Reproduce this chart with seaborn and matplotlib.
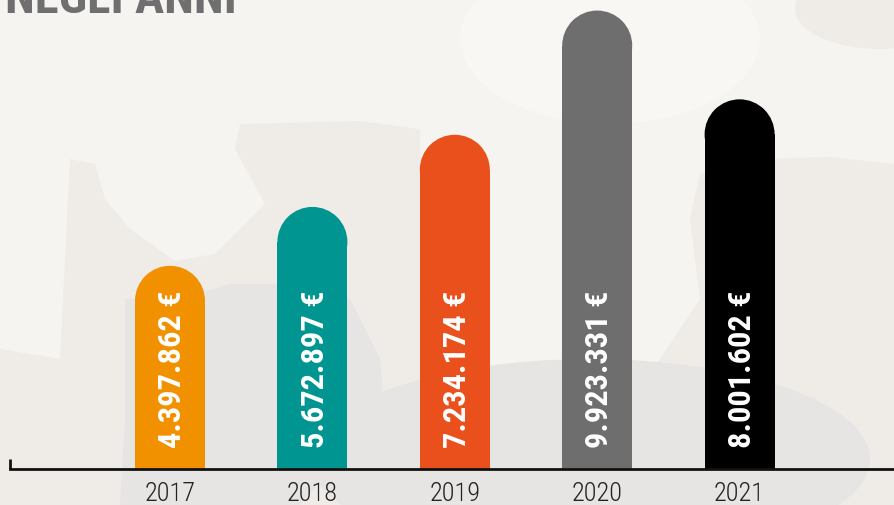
import matplotlib
matplotlib.use("Agg")
import matplotlib.pyplot as plt
import seaborn as sns
import pandas as pd
from matplotlib.patches import Ellipse, Polygon
from matplotlib import font_manager

# data
years = ["2017", "2018", "2019", "2020", "2021"]
values = [4397862, 5672897, 7234174, 9923331, 8001602]
labels = ["4.397.862 €", "5.672.897 €", "7.234.174 €", "9.923.331 €", "8.001.602 €"]
colors = ["#f29100", "#009590", "#e9501c", "#6e6e6e", "#000000"]

df = pd.DataFrame({"anno": years, "valore": values})

sns.set_style("white")
installed = set(f.name for f in font_manager.fontManager.ttflist)
cond = [f for f in ["Roboto Condensed", "Liberation Sans Narrow", "Roboto"] if f in installed]
cond = cond + ["DejaVu Sans"]

W, H = 895, 506
fig = plt.figure(figsize=(W / 100, H / 100), dpi=100)
fig.patch.set_facecolor("#f5f4f0")

# background blobs (decoration, pixel coords)
bg = fig.add_axes([0, 0, 1, 1])
bg.set_xlim(0, W)
bg.set_ylim(H, 0)
bg.axis("off")
bg.add_patch(Ellipse((610, 40), 300, 170, fc="#f8f7f3", ec="none"))
blob1 = [(0, 350), (60, 360), (70, 160), (95, 165), (105, 200), (130, 230), (175, 262), (215, 255),
         (245, 225), (265, 205), (235, 150), (240, 125), (360, 122), (420, 130), (420, 506), (0, 506)]
bg.add_patch(Polygon(blob1, closed=True, fc="#efece8", ec="none"))
blob3 = [(700, 175), (760, 160), (830, 158), (895, 165), (895, 506), (580, 506), (580, 450), (620, 420),
         (700, 300), (690, 220)]
bg.add_patch(Polygon(blob3, closed=True, fc="#efece8", ec="none"))
blob2 = [(125, 300), (180, 300), (230, 285), (300, 285), (350, 300), (380, 360), (385, 420), (330, 470),
         (300, 506), (120, 506), (125, 420)]
bg.add_patch(Polygon(blob2, closed=True, fc="#e6e5e3", ec="none"))
bg.add_patch(Ellipse((590, 460), 560, 200, fc="#e6e5e3", ec="none"))
bg.add_patch(Ellipse((880, 10), 170, 80, fc="#efece8", ec="none"))

# title, cut off at the top as in the original
title = fig.text(5 / W, 1 - 13 / H, "NEGLI ANNI", fontsize=36, fontweight="bold", color="#6f6f6f",
                 family=cond, ha="left", va="baseline")

# main axes: baseline at y=470px, left tick at x=10px
px_per_m = 46.2
step = 142.4
ax = fig.add_axes([10 / W, 36 / H, 885 / W, 470 / H])
ax.patch.set_alpha(0)

sns.barplot(data=df, x="anno", y="valore", hue="anno", palette=colors, width=70 / step,
            legend=False, ax=ax, saturation=1)
ax.set_xlim(-160 / step, (885 - 160) / step)
ax.set_ylim(0, 470 / px_per_m * 1e6)

# rounded caps
ry = 35 / px_per_m * 1e6
for p, c in zip(ax.patches[:len(values)], colors):
    x, w, h = p.get_x(), p.get_width(), p.get_height()
    p.set_height(h - ry)
    p.set_edgecolor("none")
    ax.add_patch(Ellipse((x + w / 2, h - ry), w, 2 * ry, fc=c, ec="none"))

# value labels, all starting at the same height
texts = []
for i, lab in enumerate(labels):
    t = ax.text(i + 0.015, (470 - 448) / px_per_m * 1e6, lab, rotation=90, ha="center", va="bottom",
                color="white", fontsize=24, fontweight="bold", family=cond)
    texts.append(t)

# fit label length and title width to the original
fig.canvas.draw()
r = fig.canvas.get_renderer()
ext = texts[0].get_window_extent(r)
fs = min(30, 24 * 158 / ext.height)
for t in texts:
    t.set_fontsize(fs)
tw = title.get_window_extent(r).width
title.set_fontsize(36 * 232 / tw)

for s in ["top", "right", "left"]:
    ax.spines[s].set_visible(False)
ax.spines["bottom"].set_linewidth(2)
ax.spines["bottom"].set_color("#111111")
ax.set_yticks([])
ax.set_xlabel("")
ax.set_ylabel("")
ax.tick_params(axis="x", length=0, pad=8.5, labelsize=19, labelcolor="#222222")
for t in ax.get_xticklabels():
    t.set_family(["Roboto Condensed", "Roboto"] if "Roboto Condensed" in installed else "Roboto")
    t.set_fontweight("light")

# small tick at left end of the axis line
ax.plot([0, 0], [0, 10 / 470], transform=ax.transAxes, color="#111111", lw=2, clip_on=False,
        solid_capstyle="butt")

fig.savefig("out.png", dpi=100, facecolor=fig.get_facecolor())
